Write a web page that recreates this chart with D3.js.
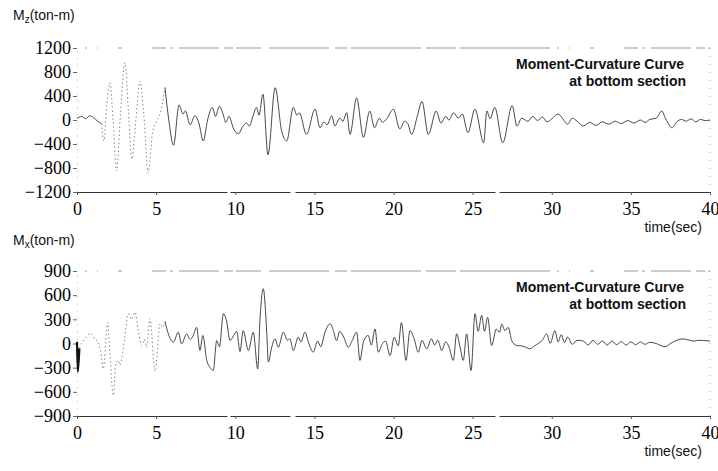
<!DOCTYPE html>
<html>
<head>
<meta charset="utf-8">
<script src="https://cdn.jsdelivr.net/npm/d3@7"></script>
<style>
  body { margin: 0; background: #fff; }
  svg { display: block; }
</style>
</head>
<body>
<div id="chart"></div>
<script>
// time ticks shared by both panels
const timeTicks = [0, 5, 10, 15, 20, 25, 30, 35, 40];

// Mz (top) trace
const tMz = [0.0, 0.3, 0.55, 0.8, 1.05, 1.3, 1.55, 1.7, 1.88, 2.08, 2.28, 2.5, 2.75, 3.03, 3.25, 3.46, 3.72, 3.98, 4.22, 4.5,
  4.78, 5.03, 5.25, 5.56, 5.8, 6.1, 6.45, 6.7, 6.85, 7.15, 7.45, 7.7, 7.98, 8.25, 8.55, 8.75, 9.0, 9.25, 9.4, 9.6,
  9.9, 10.2, 10.45, 10.7, 10.9, 11.1, 11.35, 11.5, 11.75, 12.07, 12.52, 12.93, 13.25, 13.67, 13.9, 14.05, 14.5, 15.04, 15.36, 15.6,
  15.8, 16.1, 16.3, 16.6, 16.8, 17.04, 17.25, 17.67, 18.1, 18.5, 18.8, 19.1, 19.3, 19.57, 19.99, 20.4, 20.7, 20.9, 21.15, 21.5,
  21.8, 22.2, 22.7, 23.0, 23.3, 23.5, 23.8, 24.1, 24.35, 24.7, 25.15, 25.7, 25.9, 26.1, 26.4, 26.9, 27.5, 27.8, 28.1, 28.5,
  28.8, 29.1, 29.4, 29.7, 30.0, 30.4, 30.7, 31.0, 31.3, 31.6, 32.0, 32.4, 32.8, 33.2, 33.6, 34.0, 34.4, 34.8, 35.2, 35.6,
  35.9, 36.2, 36.6, 36.95, 37.2, 37.6, 37.9, 38.2, 38.5, 38.8, 39.1, 39.4, 39.7, 40.0];
const vMz = [30, 60, 20, 70, 40, -20, -60, -350, 250, 620, 0, -850, 100, 955, 150, -650, 0, 650, 100, -880,
  -200, -15, 100, 540, 0, -420, 250, 100, 150, -80, 70, -50, -350, 0, 210, 60, 230, 80, -40, 60,
  -150, -230, -120, -50, -100, 50, 210, 80, 430, -580, 540, -180, -350, 210, 80, 120, -240, 180, -130, -30,
  -80, 70, -100, 30, -20, 120, -240, 370, -290, 150, -130, 30, -40, 20, 180, -150, -20, -60, -240, 60,
  310, -240, 150, -50, 60, 0, 120, 30, 100, -210, 180, -380, 150, 20, 210, -380, 240, -100, 30, -20,
  60, -10, 50, -30, 20, 100, 20, -70, 30, -20, -100, -40, -90, -30, -70, -20, -60, -10, -50, 0,
  -40, 10, 30, 150, 20, -130, -30, 10, -20, 20, -30, 10, -10, 0];
const mzTicks = [-1200, -800, -400, 0, 400, 800, 1200];

// Mx (bottom) trace
const tMx = [0.0, 0.05, 0.15, 0.35, 0.6, 0.85, 1.1, 1.33, 1.5, 1.66, 1.94, 2.08, 2.3, 2.45, 2.6, 2.72, 2.82, 3.0, 3.24, 3.45,
  3.67, 3.87, 4.09, 4.25, 4.4, 4.61, 4.93, 5.25, 5.4, 5.56, 5.77, 6.09, 6.4, 6.61, 6.93, 7.15, 7.3, 7.56, 7.77, 7.95,
  8.2, 8.4, 8.61, 8.83, 9.0, 9.25, 9.45, 9.67, 9.85, 10.09, 10.3, 10.5, 10.83, 11.14, 11.42, 11.56, 11.77, 12.0, 12.09, 12.3,
  12.51, 12.72, 13.04, 13.3, 13.45, 13.67, 13.98, 14.15, 14.4, 14.65, 14.93, 15.2, 15.4, 15.67, 15.99, 16.2, 16.4, 16.6, 16.85, 17.14,
  17.4, 17.67, 17.88, 18.1, 18.4, 18.6, 18.83, 19.04, 19.3, 19.5, 19.78, 20.05, 20.3, 20.5, 20.79, 21.04, 21.3, 21.57, 21.8, 22.1,
  22.4, 22.6, 22.8, 23.05, 23.3, 23.5, 23.78, 23.99, 24.2, 24.41, 24.62, 24.9, 25.15, 25.35, 25.57, 25.75, 25.95, 26.2, 26.5, 26.7,
  26.84, 27.04, 27.25, 27.47, 27.78, 28.1, 28.4, 28.6, 28.9, 29.15, 29.4, 29.68, 29.9, 30.2, 30.4, 30.6, 30.8, 31.0, 31.3, 31.6,
  32.0, 32.3, 32.6, 32.9, 33.2, 33.5, 33.8, 34.1, 34.4, 34.7, 35.0, 35.3, 35.6, 35.9, 36.2, 36.6, 36.9, 37.15, 37.5, 37.9,
  38.3, 38.7, 39.0, 39.3, 39.6, 40.0];
const vMx = [20, -350, -60, 20, 80, 130, 60, 16, -100, -315, 260, -125, -645, -250, -210, -270, -190, 50, 370, 300,
  390, 160, -25, 50, -45, 310, -345, 245, 200, 275, 120, 16, 140, -4, 120, 50, 80, 200, -87, 100,
  -210, -295, -335, 37, -40, 370, 280, 37, 80, 150, -100, 160, -87, 140, -315, 285, 680, 100, -230, -50,
  58, -45, 140, 40, 60, -87, 78, 20, 140, 0, -108, 30, -40, 140, 245, 160, 37, 150, 80, -45,
  40, 140, -210, 20, 100, -20, 180, -108, 0, 30, -150, 78, -30, 260, -210, 160, 60, -108, 40, -66,
  58, -20, 40, -87, 20, -40, -210, 120, -40, -210, 120, -335, 370, 150, 350, 150, 325, -25, 180, 140,
  240, 160, 200, 37, -25, -30, -50, -66, -30, 0, 40, 120, 0, 160, 20, 110, 10, 80, -10, 40,
  30, -20, 40, -10, 30, -20, 30, -15, 25, -20, 20, -15, 20, -10, 15, 0, -25, -40, 0, 40,
  58, 40, 30, 40, 37, 30];
const mxTicks = [-900, -600, -300, 0, 300, 600, 900];

const width = 718;
const height = 471;
const serif = "Liberation Serif";
const sans = "Liberation Sans";

const svg = d3.select("#chart")
    .append("svg")
    .attr("width", width)
    .attr("height", height);

const x = d3.scaleLinear().domain([0, 40]).range([77, 710]);

function drawPanel(opts) {
    const y = d3.scaleLinear().domain(opts.domain).range([opts.bottom, opts.top]);
    const g = svg.append("g");

    // faint scanned-looking frame
    g.append("line")
        .attr("x1", x(0) + 8).attr("x2", x(40))
        .attr("y1", opts.top).attr("y2", opts.top)
        .attr("stroke", "#999").attr("stroke-width", 1)
        .attr("stroke-dasharray", "2,10,1,20,4,30,14,4,3,6,40,5,9,3,25,8,60,6,12,4,70,5,30,4,90,7");
    g.append("line")
        .attr("x1", x(40)).attr("x2", x(40))
        .attr("y1", opts.top).attr("y2", opts.bottom)
        .attr("stroke", "#aaa").attr("stroke-width", 1)
        .attr("stroke-dasharray", "1,7");

    // y axis
    const yAxis = d3.axisLeft(y).tickValues(opts.ticks).tickSize(4).tickSizeOuter(0)
        .tickPadding(2).tickFormat(d3.format("d"));
    const ya = g.append("g")
        .attr("transform", `translate(${x(0)},0)`)
        .call(yAxis)
        .attr("font-family", serif)
        .attr("font-size", 18);
    ya.select(".domain").attr("stroke", "#bbb").attr("stroke-dasharray", "1,6");
    ya.selectAll(".tick line").attr("stroke", "#666");
    ya.selectAll("text").attr("fill", "#000");

    // x axis
    const xAxis = d3.axisBottom(x).tickValues(timeTicks).tickSize(3).tickSizeOuter(0)
        .tickPadding(7).tickFormat(d3.format("d"));
    const xa = g.append("g")
        .attr("transform", `translate(0,${opts.bottom})`)
        .call(xAxis)
        .attr("font-family", serif)
        .attr("font-size", 18);
    xa.select(".domain").attr("stroke", "#333").attr("stroke-dasharray", "150,3,60,5,200,4,220");
    xa.selectAll(".tick line").attr("stroke", "#555");
    xa.selectAll("text").attr("fill", "#000");

    // trace, split into pieces so the faint high-amplitude part reads dotted
    const pts = opts.t.map((t, i) => ({ t: t, v: opts.v[i] }));
    const line = d3.line()
        .x(d => x(d.t))
        .y(d => y(d.v))
        .curve(d3.curveMonotoneX);

    opts.pieces.forEach(p => {
        const sub = pts.filter(d => d.t >= p[0] && d.t <= p[1]);
        g.append("path")
            .datum(sub)
            .attr("fill", "none")
            .attr("stroke", p[2])
            .attr("stroke-width", p[3])
            .attr("stroke-dasharray", p[4])
            .attr("d", line);
    });

    // y label with subscript
    const lab = g.append("text")
        .attr("x", 13)
        .attr("y", opts.labelY)
        .attr("font-family", sans)
        .attr("font-size", 14)
        .attr("fill", "#111");
    lab.append("tspan").text("M");
    lab.append("tspan").attr("font-size", 10).attr("dy", 3).text(opts.sub);
    lab.append("tspan").attr("dy", -3).text("(ton-m)");

    // note
    g.append("text")
        .attr("x", 684)
        .attr("y", opts.top + 21)
        .attr("text-anchor", "end")
        .attr("font-family", sans)
        .attr("font-weight", "bold")
        .attr("font-size", 14)
        .attr("fill", "#111")
        .text("Moment-Curvature Curve");
    g.append("text")
        .attr("x", 686)
        .attr("y", opts.top + 38)
        .attr("text-anchor", "end")
        .attr("font-family", sans)
        .attr("font-weight", "bold")
        .attr("font-size", 14)
        .attr("fill", "#111")
        .text("at bottom section");

    // x label
    g.append("text")
        .attr("x", 702)
        .attr("y", opts.bottom + 40)
        .attr("text-anchor", "end")
        .attr("font-family", sans)
        .attr("font-size", 14)
        .attr("fill", "#111")
        .text("time(sec)");
}

drawPanel({
    t: tMz, v: vMz, ticks: mzTicks, domain: [-1200, 1200],
    top: 48, bottom: 192, labelY: 20, sub: "z",
    pieces: [
        [0, 1.6, "#333", 0.9, null],
        [1.55, 5.6, "#888", 1, "1.5,2.5"],
        [5.56, 40, "#333", 0.9, null]
    ]
});

drawPanel({
    t: tMx, v: vMx, ticks: mxTicks, domain: [-900, 900],
    top: 271, bottom: 416, labelY: 245, sub: "x",
    pieces: [
        [0, 0.15, "#111", 2.2, null],
        [0.15, 5.6, "#888", 1, "1.5,2.5"],
        [5.56, 40, "#333", 0.9, null]
    ]
});
</script>
</body>
</html>
